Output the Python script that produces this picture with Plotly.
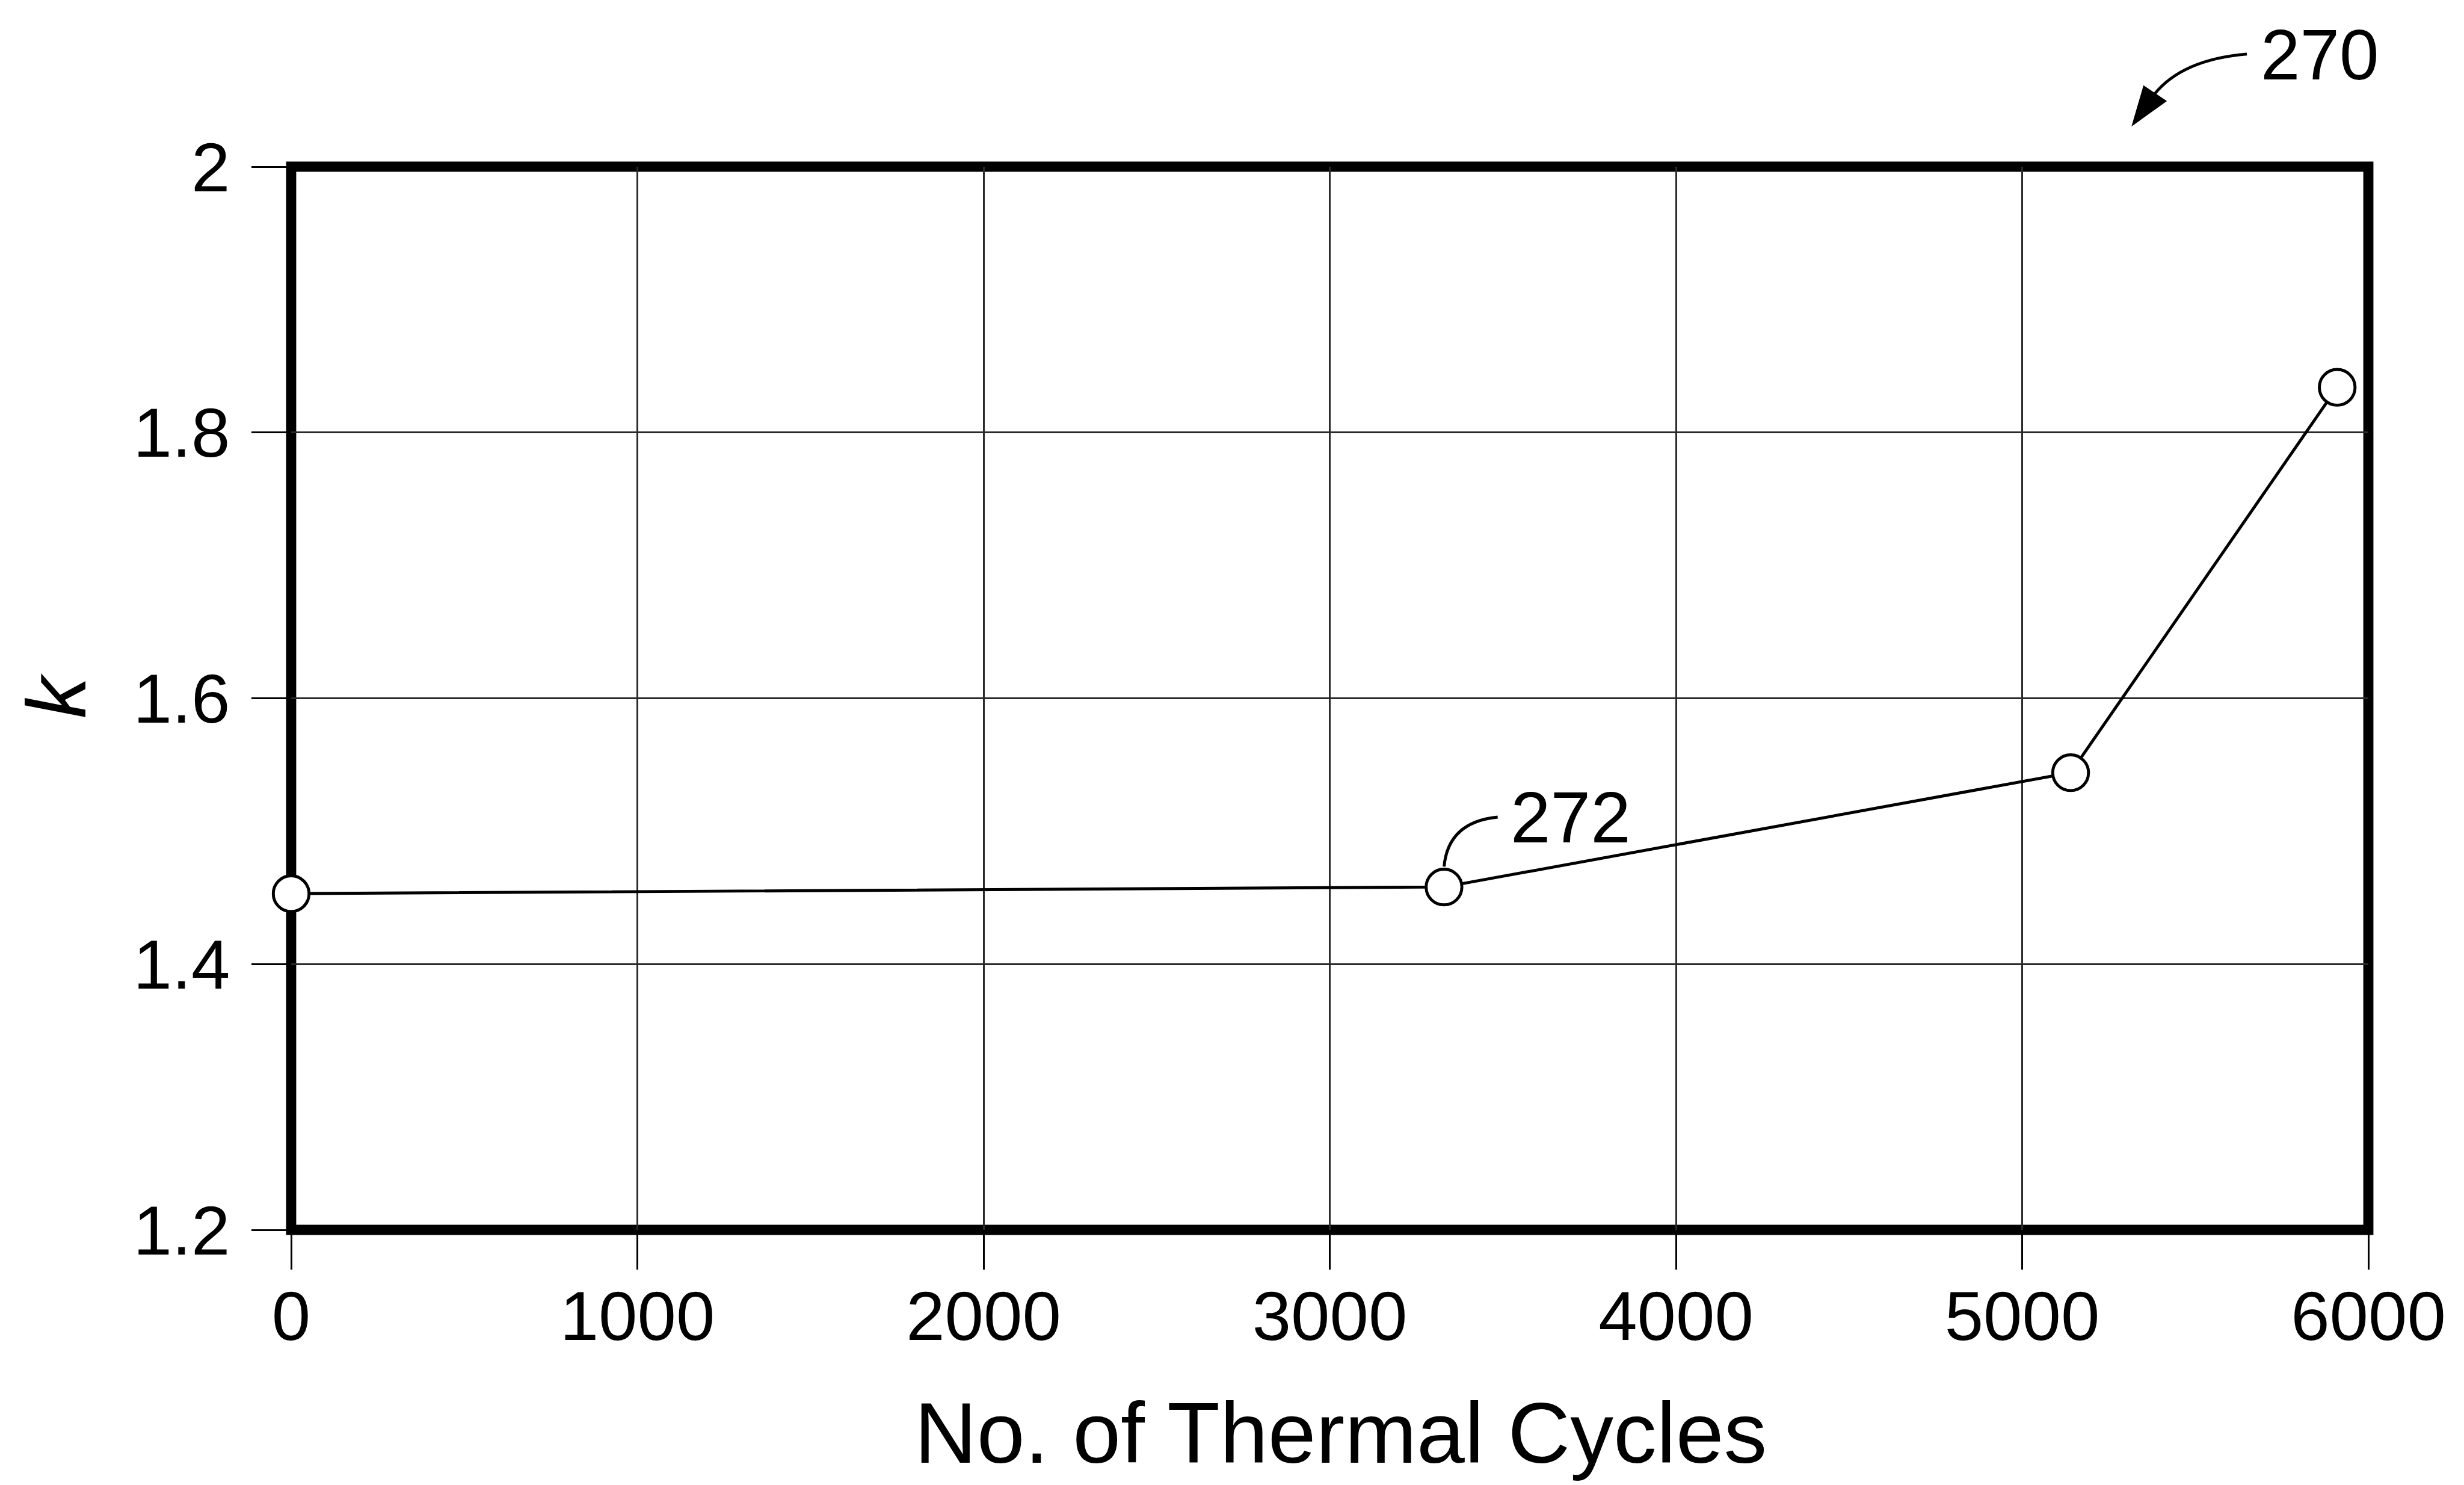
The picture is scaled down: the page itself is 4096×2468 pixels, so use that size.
import plotly.graph_objects as go

# ---- data ----
cycles = [0, 3330, 5140, 5910]
k_values = [1.453, 1.458, 1.544, 1.834]
x_ticks = [0, 1000, 2000, 3000, 4000, 5000, 6000]
x_tick_text = ["0", "1000", "2000", "3000", "4000", "5000", "6000"]
y_ticks = [1.2, 1.4, 1.6, 1.8, 2.0]
y_tick_text = ["1.2", "1.4", "1.6", "1.8", "2"]
x_title = "No. of Thermal Cycles"
y_title = "k"
fig_label = "270"
point_label = "272"

# ---- geometry (reference pixels scaled by S) ----
S = 0.99
W, H = 4096, 2468
L, R, T, B = 489 * S, 3977 * S, 280 * S, 2065 * S
FONT = "Liberation Sans, Arial, sans-serif"


def px(x):
    return (x * S - L) / (R - L)


def py(y):
    return (B - y * S) / (B - T)


fig = go.Figure()
fig.add_trace(go.Scatter(
    x=cycles, y=k_values, mode="lines+markers",
    line=dict(color="black", width=5 * S),
    marker=dict(symbol="circle", size=60 * S, color="white",
                line=dict(color="black", width=5 * S)),
    cliponaxis=False, showlegend=False,
))

axis_common = dict(
    showline=False, zeroline=False, showgrid=True,
    gridcolor="#2a2a2a", gridwidth=3 * S,
    ticks="outside", ticklen=66 * S, tickwidth=3 * S, tickcolor="black",
    tickfont=dict(family=FONT, size=117 * S, color="black"),
)
fig.update_xaxes(range=[0, 6000], tickvals=x_ticks, ticktext=x_tick_text,
                 ticklabelstandoff=-22, **axis_common)
fig.update_yaxes(range=[1.2, 2.0], tickvals=y_ticks, ticktext=y_tick_text,
                 ticklabelstandoff=12, **axis_common)

shapes = [
    dict(type="rect", xref="paper", yref="paper", x0=0, x1=1, y0=0, y1=1,
         line=dict(color="black", width=17 * S), layer="between"),
]
# curved arrow for 270
arrow_path = "M {},{} Q {},{} {},{}".format(px(3773), py(91), px(3665), py(100), px(3618), py(158))
shapes.append(dict(type="path", xref="paper", yref="paper", path=arrow_path,
                   line=dict(color="black", width=5 * S)))
head_path = "M {},{} L {},{} L {},{} Z".format(px(3581), py(210), px(3600), py(145), px(3637), py(170))
shapes.append(dict(type="path", xref="paper", yref="paper", path=head_path,
                   fillcolor="black", line=dict(color="black", width=2)))
# leader for 272
lead_path = "M {},{} Q {},{} {},{}".format(px(2515), py(1372), px(2432), py(1380), px(2425), py(1455))
shapes.append(dict(type="path", xref="paper", yref="paper", path=lead_path,
                   line=dict(color="black", width=5 * S)))

annotations = [
    dict(text=x_title, xref="paper", yref="paper", x=px(2251), y=py(2405),
         xanchor="center", yanchor="middle", showarrow=False,
         font=dict(family=FONT, size=145 * S, color="black")),
    dict(text="<i>" + y_title + "</i>", xref="paper", yref="paper", x=px(95), y=py(1168),
         xanchor="center", yanchor="middle", showarrow=False, textangle=-90,
         font=dict(family=FONT, size=140 * S, color="black")),
    dict(text=fig_label, xref="paper", yref="paper", x=px(3896), y=py(92),
         xanchor="center", yanchor="middle", showarrow=False,
         font=dict(family=FONT, size=119 * S, color="black")),
    dict(text=point_label, xref="paper", yref="paper", x=px(2638), y=py(1373),
         xanchor="center", yanchor="middle", showarrow=False,
         font=dict(family=FONT, size=121 * S, color="black")),
]

fig.update_layout(
    width=W, height=H,
    margin=dict(l=L, r=W - R, t=T, b=H - B, pad=0),
    paper_bgcolor="white", plot_bgcolor="white",
    shapes=shapes, annotations=annotations,
    font=dict(family=FONT, color="black"),
)

fig.write_html("out.html")
